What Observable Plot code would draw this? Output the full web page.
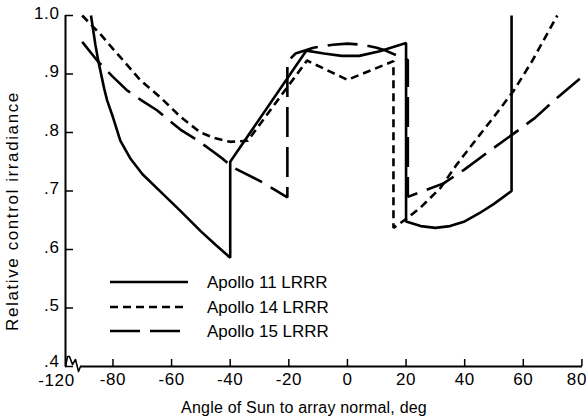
<!DOCTYPE html>
<html><head><meta charset="utf-8">
<script src="https://cdn.jsdelivr.net/npm/d3@7"></script>
<script src="https://cdn.jsdelivr.net/npm/@observablehq/plot@0.6"></script>
<style>
body{margin:0;background:#fff;}
#chart{width:586px;height:418px;}
</style></head><body><div id="chart"></div>
<script>
// ---- data ----
const apollo11Angle = [-87.5,-86,-85,-83,-82,-80,-77.5,-74,-70,-63,-57,-50,-45,-40,-40,-14,-8,-2,4,11,20,20,25,30,35,40,45,50,56,56];
const apollo11Value = [1.0,0.95,0.922,0.875,0.855,0.826,0.786,0.755,0.729,0.695,0.666,0.631,0.608,0.586,0.75,0.94,0.935,0.931,0.931,0.939,0.953,0.648,0.640,0.637,0.640,0.648,0.662,0.678,0.70,1.0];

const apollo14Angle = [-90.5,-87,-84.3,-80,-77.5,-70.6,-63.8,-57,-50.2,-45,-40,-34,-13.8,0,15.7,15.7,20,25,31.7,37.4,45,50,56.8,63,71.6];
const apollo14Value = [1.0,0.982,0.968,0.943,0.929,0.889,0.860,0.827,0.800,0.790,0.784,0.786,0.923,0.890,0.922,0.637,0.652,0.672,0.705,0.746,0.795,0.827,0.872,0.922,1.0];

const apollo15Angle = [-90.5,-85.4,-80,-75.2,-70,-65,-57,-51.3,-46,-42.3,-38.9,-28.7,-20.5,-20.5,-17.7,-11.6,-5,0,5,10,13,20.6,20.6,26,32.8,40,47.8,56.7,64,71.7,80.5];
const apollo15Value = [0.955,0.923,0.895,0.872,0.854,0.838,0.805,0.787,0.768,0.754,0.740,0.714,0.689,0.921,0.935,0.945,0.950,0.952,0.950,0.945,0.940,0.924,0.690,0.700,0.713,0.737,0.766,0.798,0.825,0.860,0.897];

const seriesNames = ["Apollo 11 LRRR", "Apollo 14 LRRR", "Apollo 15 LRRR"];
const xTicks = [-80, -60, -40, -20, 0, 20, 40, 60, 80];
const yTicks = [0.4, 0.5, 0.6, 0.7, 0.8, 0.9, 1.0];
const yTickLabels = [".4", ".5", ".6", ".7", ".8", ".9", "1.0"];
const brokenAxisLabel = "-120";
const xLabel = "Angle of Sun to array normal, deg";
const yLabel = "Relative control irradiance";

// ---- build table ----
const rows = [];
[[apollo11Angle, apollo11Value], [apollo14Angle, apollo14Value], [apollo15Angle, apollo15Value]].forEach(([xs, ys], k) => {
  xs.forEach((x, i) => rows.push({series: seriesNames[k], x, y: ys[i]}));
});

const FONT = "'Liberation Sans',Arial,sans-serif";
const dashes = {"Apollo 11 LRRR": null, "Apollo 14 LRRR": "8,5", "Apollo 15 LRRR": "30,10"};
const W = 586, H = 418, mL = 65, mR = 4, mT = 15, mB = 52;
const xDomain = [-96.2, 80.2];
const yDomain = [0.4, 1.0];
const pxX = (W - mL - mR) / (xDomain[1] - xDomain[0]);
const pxY = (H - mT - mB) / (yDomain[1] - yDomain[0]);
const ox = d => xDomain[0] + d / pxX;   // pixel offset -> data
const oy = d => yDomain[0] - d / pxY;

// axis break zigzag (offsets in px from the origin corner)
const breakPath = [[0,0],[2,-10],[4,-10],[7,-2],[10,-7],[13,5],[15,0]].map(([a,b]) => ({x: ox(a), y: oy(b)}));

const lineMarks = seriesNames.map(s => Plot.line(rows.filter(r => r.series === s), {
  x: "x", y: "y", stroke: "#000", strokeWidth: 2.6, strokeDasharray: dashes[s], strokeLinejoin: "miter", strokeLinecap: "butt"
}));

const fmtX = d => String(d);
const fmtY = d => yTickLabels[yTicks.indexOf(d)];
const plot = Plot.plot({
  width: W, height: H, marginLeft: mL, marginRight: mR, marginTop: mT, marginBottom: mB,
  x: {domain: xDomain},
  y: {domain: yDomain},
  style: {fontFamily: FONT, fontSize: "17px", color: "#000", background: "#fff"},
  marks: [
    Plot.axisX(xTicks.slice(0, -1), {tickSize: 0, tickPadding: 6, label: null, fontSize: 17, tickFormat: fmtX}),
    Plot.axisX(xTicks.slice(-1), {tickSize: 0, tickPadding: 6, label: null, fontSize: 17, tickFormat: fmtX, dx: -5}),
    Plot.axisY(yTicks.slice(1), {tickSize: 0, tickPadding: 6, label: null, fontSize: 17, dy: -2, tickFormat: fmtY}),
    Plot.axisY(yTicks.slice(0, 1), {tickSize: 0, tickPadding: 6, label: null, fontSize: 17, dy: -5, tickFormat: fmtY}),
    Plot.text([brokenAxisLabel], {x: xDomain[0], y: yDomain[0], dx: -9, dy: 14, fontSize: 17}),
    Plot.ruleX(xTicks, {x: d => d, y1: yDomain[0], y2: oy(-7), strokeWidth: 1.5}),
    Plot.ruleY(yTicks, {y: d => d, x1: xDomain[0], x2: ox(8), strokeWidth: 1.5}),
    Plot.ruleX([xDomain[0]], {y1: yDomain[0], y2: yDomain[1], strokeWidth: 2}),
    Plot.ruleY([yDomain[0]], {x1: ox(15), x2: xDomain[1], strokeWidth: 2}),
    Plot.line(breakPath, {x: "x", y: "y", strokeWidth: 1.6}),
    ...lineMarks,
    Plot.text([xLabel], {frameAnchor: "bottom", dy: 41, dx: -20, lineAnchor: "middle", textAnchor: "middle", fontSize: 16}),
    Plot.text([yLabel], {frameAnchor: "left", rotate: -90, dx: -53, dy: 20, lineAnchor: "middle", textAnchor: "middle", fontSize: 17})
  ]
});

const svg = d3.select(plot);
// letter spacing tweaks to mimic the typewriter-style lettering
svg.selectAll("text").each(function() {
  const t = this.textContent;
  if (t === yLabel) this.setAttribute("letter-spacing", "1.6px");
  else if (t === xLabel) this.setAttribute("letter-spacing", "0.2px");
  else this.setAttribute("letter-spacing", "0.6px");
});

// legend
const lg = svg.append("g").attr("font-family", FONT).attr("font-size", 17).attr("text-anchor", "start");
const legY = [282, 307, 331];
const legX2 = [188, 183, 190];
seriesNames.forEach((s, i) => {
  lg.append("line").attr("x1", 110).attr("x2", legX2[i]).attr("y1", legY[i]).attr("y2", legY[i])
    .attr("stroke", "#000").attr("stroke-width", 2.6).attr("stroke-dasharray", dashes[s]);
  lg.append("text").attr("x", 207).attr("y", legY[i]).attr("dy", "0.35em").text(s);
});

document.getElementById("chart").appendChild(plot);
</script>
</body></html>
